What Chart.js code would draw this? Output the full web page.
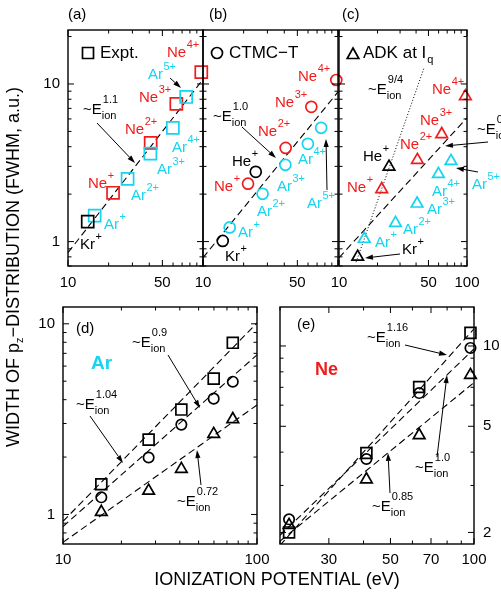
<!DOCTYPE html>
<html><head><meta charset="utf-8">
<script src="https://cdn.jsdelivr.net/npm/chart.js@4.4.1/dist/chart.umd.min.js"></script>
<style>
html,body{margin:0;padding:0;background:#fff;}
#wrap{position:relative;width:501px;height:599px;overflow:hidden;background:#fff;}
canvas{position:absolute;left:0;top:0;}
</style></head><body><div id="wrap">
<canvas id="ca" width="501" height="599"></canvas>
<canvas id="cb" width="501" height="599"></canvas>
<canvas id="cc" width="501" height="599"></canvas>
<canvas id="cd" width="501" height="599"></canvas>
<canvas id="ce" width="501" height="599"></canvas>
</div>
<script>
const FONT = '"Liberation Sans", Arial, Helvetica, sans-serif';
const RED = '#f01c1c', CYAN = '#14d4f0', BLACK = '#000';

// ionization potentials (eV)
const ipKr = [14.0];
const ipHe = [24.59];
const ipAr = [15.76, 27.63, 40.74, 59.81, 75.02];
const ipNe = [21.56, 40.96, 63.45, 97.12];

// (a) experiment
const exptKr = [1.34];
const exptAr = [1.46, 2.50, 3.61, 5.27, 8.27];
const exptNe = [2.04, 4.23, 7.47, 11.9];
// (b) CTMC-T
const ctmcKr = [1.01];
const ctmcHe = [2.77];
const ctmcAr = [1.23, 2.01, 3.07, 4.17, 5.27];
const ctmcNe = [2.33, 3.93, 7.16, 10.6];
// (c) ADK at Iq
const adkKr = [0.80];
const adkHe = [2.98];
const adkAr = [1.04, 1.31, 1.74, 2.68, 3.24];
const adkNe = [2.15, 3.29, 4.8, 8.35];
// (d) Ar
const dExpt = [1.44, 2.47, 3.55, 5.16, 7.95];
const dCtmc = [1.23, 1.99, 2.96, 4.05, 4.97];
const dAdk  = [1.03, 1.33, 1.73, 2.64, 3.16];
// (e) Ne
const eExpt = [2.0, 3.97, 7.02, 11.2];
const eCtmc = [2.24, 3.77, 6.66, 9.83];
const eAdk  = [2.13, 3.16, 4.63, 7.78];

// power-law guide lines (endpoints)
const fitAx = [10, 100], fitAy = [0.85, 10.7];
const fitBx = [10, 100], fitBy = [0.79, 8.9];
const fitCx = [10, 100], fitCy = [0.79, 6.1];
const dotCx = [13.6, 46.1], dotCy = [0.74, 12.6];
const fitDx = [10, 100];
const fitDExpt = [0.92, 10.1], fitDCtmc = [0.865, 6.87], fitDAdk = [0.714, 3.75];
const fitEx = [20, 100];
const fitEExpt = [1.79, 11.6], fitECtmc = [1.95, 9.75], fitEAdk = [1.855, 7.29];

// tick labels
const xLabelsA = [10, 50], xLabelsB = [10, 50], xLabelsC = [10, 50, 100];
const yLabelsTop = [1, 10];
const xLabelsD = [10, 100], yLabelsD = [1, 10];
const xLabelsE = [30, 50, 70, 100], yLabelsE = [2, 5, 10];

const W = 501, H = 599;
function pts(xs, ys) { return xs.map((x, i) => ({x: x, y: ys[i]})); }
function markers(xs, ys, style, color, r) {
  return {data: pts(xs, ys), pointStyle: style, pointRadius: r, borderColor: color, pointBorderColor: color,
    backgroundColor: 'rgba(0,0,0,0)', pointBackgroundColor: 'rgba(0,0,0,0)', borderWidth: 1.7, pointBorderWidth: 1.7,
    showLine: false, clip: false};
}
function fit(xs, ys, dash) {
  return {data: pts(xs, ys), showLine: true, borderColor: '#000', borderWidth: 1.1, borderDash: dash,
    pointRadius: 0, fill: false, tension: 0};
}
function logTickValues(min, max) {
  const out = [];
  for (let p = -1; p <= 3; p++) for (let k = 1; k <= 9; k++) {
    const v = +(k * Math.pow(10, p)).toPrecision(3);
    if (v >= min * 0.999 && v <= max * 1.001) out.push(v);
  }
  return out;
}
function isDecade(v) { const l = Math.log10(v); return Math.abs(l - Math.round(l)) < 1e-6; }

function txt(ctx, s, x, y, size, color, opts) {
  opts = opts || {};
  ctx.font = (opts.bold ? 'bold ' : '') + size + 'px ' + FONT;
  ctx.fillStyle = color; ctx.textAlign = opts.align || 'left'; ctx.textBaseline = 'middle';
  ctx.fillText(s, x, y);
  return ctx.measureText(s).width;
}
function ion(ctx, base, sup, x, y, color) {
  const w = txt(ctx, base, x, y, 15, color);
  txt(ctx, sup, x + w + 0.5, y - 8, 11, color);
}
function elabel(ctx, x, y, exp) {
  const w = txt(ctx, '~E', x, y, 15, BLACK);
  txt(ctx, 'ion', x + w, y + 6, 11, BLACK);
  txt(ctx, exp, x + w + 1, y - 10, 11, BLACK);
}
function arrow(ctx, x1, y1, x2, y2) {
  ctx.save(); ctx.strokeStyle = '#000'; ctx.fillStyle = '#000'; ctx.lineWidth = 1; ctx.setLineDash([]);
  const a = Math.atan2(y2 - y1, x2 - x1), L = 8, Wd = 2.6;
  const bx = x2 - L * Math.cos(a), by = y2 - L * Math.sin(a);
  ctx.beginPath(); ctx.moveTo(x1, y1); ctx.lineTo(bx, by); ctx.stroke();
  ctx.beginPath(); ctx.moveTo(x2, y2);
  ctx.lineTo(bx + Wd * Math.sin(a), by - Wd * Math.cos(a));
  ctx.lineTo(bx - Wd * Math.sin(a), by + Wd * Math.cos(a));
  ctx.closePath(); ctx.fill(); ctx.restore();
}
function legendMark(ctx, shape, x, y) {
  ctx.save(); ctx.strokeStyle = '#000'; ctx.lineWidth = 1.7; ctx.beginPath();
  if (shape === 'rect') ctx.rect(x - 5.5, y - 5.5, 11, 11);
  else if (shape === 'circle') ctx.arc(x, y, 5.5, 0, Math.PI * 2);
  else { ctx.moveTo(x, y - 6); ctx.lineTo(x + 5.8, y + 4.5); ctx.lineTo(x - 5.8, y + 4.5); ctx.closePath(); }
  ctx.stroke(); ctx.restore();
}

function drawFrame(chart, p) {
  const ctx = chart.ctx, a = chart.chartArea, xs = chart.scales.x, ys = chart.scales.y;
  ctx.save(); ctx.strokeStyle = '#000'; ctx.setLineDash([]); ctx.lineWidth = 1;
  ctx.beginPath();
  for (const v of logTickValues(p.x[0], p.x[1])) {
    const px = xs.getPixelForValue(v);
    const L = (isDecade(v) || p.xLabels.includes(v)) ? 6 : 3.5;
    ctx.moveTo(px, a.bottom); ctx.lineTo(px, a.bottom - L);
    ctx.moveTo(px, a.top); ctx.lineTo(px, a.top + L);
  }
  for (const v of logTickValues(p.y[0], p.y[1])) {
    const py = ys.getPixelForValue(v);
    const L = (isDecade(v) || p.yLabels.includes(v)) ? 6 : 3.5;
    ctx.moveTo(a.left, py); ctx.lineTo(a.left + L, py);
    ctx.moveTo(a.right, py); ctx.lineTo(a.right - L, py);
  }
  ctx.stroke();
  ctx.lineWidth = 1.4;
  ctx.strokeRect(a.left, a.top, a.right - a.left, a.bottom - a.top);
  ctx.restore();
}

function makePanel(p) {
  const plugin = {id: 'deco_' + p.id, afterDraw(chart) { drawFrame(chart, p); if (p.draw) p.draw(chart.ctx, chart); }};
  const tickFont = {family: FONT, size: 15};
  const AXH = 30;                       // height reserved for x tick labels
  const AXW = p.showY ? p.yAxisW : 0;    // width reserved for y tick labels
  const pad = {left: p.box.l - (p.yPos === 'left' ? AXW : 0), top: p.box.t,
    right: W - p.box.r - (p.yPos === 'right' ? AXW : 0), bottom: H - p.box.b - AXH};
  new Chart(document.getElementById(p.id), {
    type: 'scatter',
    data: {datasets: p.datasets},
    options: {
      responsive: false, animation: false, devicePixelRatio: 1,
      layout: {padding: pad, autoPadding: false},
      plugins: {legend: {display: false}, tooltip: {enabled: false}},
      elements: {line: {tension: 0}},
      scales: {
        x: {type: 'logarithmic', position: 'bottom', min: p.x[0], max: p.x[1],
          grid: {display: false, drawTicks: false}, border: {display: false},
          afterFit(s) { s.height = AXH; },
          afterBuildTicks(s) { s.ticks = p.xLabels.map(v => ({value: v})); },
          ticks: {display: true, autoSkip: false, maxRotation: 0, minRotation: 0, padding: p.xPad, color: '#000',
            font: tickFont, callback: v => String(v)}},
        y: {type: 'logarithmic', position: p.yPos, min: p.y[0], max: p.y[1],
          grid: {display: false, drawTicks: false}, border: {display: false},
          afterFit(s) { s.width = AXW; },
          afterBuildTicks(s) { s.ticks = p.yLabels.map(v => ({value: v})); },
          ticks: {display: p.showY, autoSkip: false, padding: p.yPad, color: '#000',
            font: tickFont, callback: v => String(v)}}
      }
    },
    plugins: [plugin]
  });
}

const TOPY = [0.7, 22];

makePanel({id: 'ca', box: {l: 68, t: 30, r: 203, b: 266}, x: [10, 100], y: TOPY, xLabels: xLabelsA, yLabels: yLabelsTop,
  yPos: 'left', showY: true, yAxisW: 40, xPad: 8, yPad: 8,
  datasets: [
    markers(ipKr, exptKr, 'rect', BLACK, 8.5),
    markers(ipAr, exptAr, 'rect', CYAN, 8.5),
    markers(ipNe, exptNe, 'rect', RED, 8.5),
    fit(fitAx, fitAy, [7, 4])
  ],
  draw(ctx) {
    txt(ctx, '(a)', 68, 15, 15, BLACK);
    legendMark(ctx, 'rect', 88, 53); txt(ctx, 'Expt.', 100, 53, 17, BLACK);
    ion(ctx, 'Ne', '4+', 167, 53, RED);
    ion(ctx, 'Ar', '5+', 148, 75, CYAN);
    ion(ctx, 'Ne', '3+', 139, 98, RED);
    ion(ctx, 'Ne', '2+', 125, 130, RED);
    ion(ctx, 'Ar', '4+', 172, 148, CYAN);
    ion(ctx, 'Ar', '3+', 157, 170, CYAN);
    ion(ctx, 'Ne', '+', 88, 184, RED);
    ion(ctx, 'Ar', '2+', 131, 196, CYAN);
    ion(ctx, 'Ar', '+', 104, 225, CYAN);
    ion(ctx, 'Kr', '+', 80, 245, BLACK);
    elabel(ctx, 83, 110, '1.1');
    arrow(ctx, 97, 123, 135, 163);
    arrow(ctx, 170, 78, 181, 88);
    // shared axis titles
    ctx.save(); ctx.translate(14, 267); ctx.rotate(-Math.PI / 2);
    ctx.font = '18px ' + FONT; const w1 = ctx.measureText('WIDTH OF p').width;
    ctx.font = '11px ' + FONT; const wz = ctx.measureText('z').width;
    ctx.font = '18px ' + FONT; const w2 = ctx.measureText('\u2212DISTRIBUTION (FWHM, a.u.)').width;
    const st = -(w1 + wz + w2) / 2;
    txt(ctx, 'WIDTH OF p', st, 0, 18, BLACK);
    txt(ctx, 'z', st + w1, 6, 11, BLACK);
    txt(ctx, '\u2212DISTRIBUTION (FWHM, a.u.)', st + w1 + wz, 0, 18, BLACK);
    ctx.restore();
    txt(ctx, 'IONIZATION POTENTIAL (eV)', 277, 580, 18, BLACK, {align: 'center'});
  }
});

makePanel({id: 'cb', box: {l: 203, t: 30, r: 338, b: 266}, x: [10, 100], y: TOPY, xLabels: xLabelsB, yLabels: yLabelsTop,
  yPos: 'left', showY: false, xPad: 8, yPad: 8,
  datasets: [
    markers(ipKr, ctmcKr, 'circle', BLACK, 5.5),
    markers(ipHe, ctmcHe, 'circle', BLACK, 5.5),
    markers(ipAr, ctmcAr, 'circle', CYAN, 5.5),
    markers(ipNe, ctmcNe, 'circle', RED, 5.5),
    fit(fitBx, fitBy, [7, 4])
  ],
  draw(ctx) {
    txt(ctx, '(b)', 209, 15, 15, BLACK);
    legendMark(ctx, 'circle', 217, 53); txt(ctx, 'CTMC\u2212T', 229, 53, 17, BLACK);
    ion(ctx, 'Ne', '4+', 298, 77, RED);
    ion(ctx, 'Ne', '3+', 275, 103, RED);
    ion(ctx, 'Ne', '2+', 258, 132, RED);
    ion(ctx, 'He', '+', 232, 162, BLACK);
    ion(ctx, 'Ne', '+', 214, 187, RED);
    ion(ctx, 'Ar', '4+', 298, 160, CYAN);
    ion(ctx, 'Ar', '3+', 277, 187, CYAN);
    ion(ctx, 'Ar', '2+', 257, 212, CYAN);
    ion(ctx, 'Ar', '+', 238, 233, CYAN);
    ion(ctx, 'Kr', '+', 225, 257, BLACK);
    ion(ctx, 'Ar', '5+', 307, 204, CYAN);
    elabel(ctx, 213, 117, '1.0');
    arrow(ctx, 242, 127, 276, 158);
    arrow(ctx, 327, 190, 326, 139);
  }
});

makePanel({id: 'cc', box: {l: 339, t: 30, r: 467, b: 266}, x: [10, 100], y: TOPY, xLabels: xLabelsC, yLabels: yLabelsTop,
  yPos: 'left', showY: false, xPad: 8, yPad: 8,
  datasets: [
    markers(ipKr, adkKr, 'triangle', BLACK, 6.7),
    markers(ipHe, adkHe, 'triangle', BLACK, 6.7),
    markers(ipAr, adkAr, 'triangle', CYAN, 6.7),
    markers(ipNe, adkNe, 'triangle', RED, 6.7),
    fit(fitCx, fitCy, [7, 4]),
    Object.assign(fit(dotCx, dotCy, [1, 2]), {borderWidth: 1})
  ],
  draw(ctx) {
    txt(ctx, '(c)', 342, 15, 15, BLACK);
    legendMark(ctx, 'tri', 353, 54); txt(ctx, 'ADK at I', 363, 53, 17, BLACK);
    ctx.font = '17px ' + FONT; const wl = ctx.measureText('ADK at I').width;
    txt(ctx, 'q', 363 + wl + 1, 60, 11, BLACK);
    elabel(ctx, 368, 90, '9/4');
    ion(ctx, 'Ne', '4+', 432, 90, RED);
    ion(ctx, 'Ne', '3+', 420, 121, RED);
    ion(ctx, 'Ne', '2+', 400, 145, RED);
    ion(ctx, 'He', '+', 363, 157, BLACK);
    ion(ctx, 'Ne', '+', 347, 188, RED);
    elabel(ctx, 477, 130, '0.9');
    ion(ctx, 'Ar', '5+', 472, 185, CYAN);
    ion(ctx, 'Ar', '4+', 432, 192, CYAN);
    ion(ctx, 'Ar', '3+', 427, 210, CYAN);
    ion(ctx, 'Ar', '2+', 403, 230, CYAN);
    ion(ctx, 'Ar', '+', 375, 243, CYAN);
    ion(ctx, 'Kr', '+', 402, 250, BLACK);
    arrow(ctx, 488, 142, 445, 146);
    arrow(ctx, 478, 172, 456, 168);
    arrow(ctx, 400, 254, 365, 258);
  }
});

makePanel({id: 'cd', box: {l: 63, t: 307, r: 257, b: 544}, x: [10, 100], y: [0.705, 12.25], xLabels: xLabelsD, yLabels: yLabelsD,
  yPos: 'left', showY: true, yAxisW: 40, xPad: 7, yPad: 8,
  datasets: [
    markers(ipAr, dExpt, 'rect', BLACK, 7.7),
    markers(ipAr, dCtmc, 'circle', BLACK, 5.2),
    markers(ipAr, dAdk, 'triangle', BLACK, 6.7),
    fit(fitDx, fitDExpt, [7, 4]),
    fit(fitDx, fitDCtmc, [7, 4]),
    fit(fitDx, fitDAdk, [7, 4])
  ],
  draw(ctx) {
    txt(ctx, '(d)', 76, 329, 15, BLACK);
    txt(ctx, 'Ar', 91, 364, 19, CYAN, {bold: true});
    elabel(ctx, 132, 343, '0.9');
    elabel(ctx, 76, 405, '1.04');
    elabel(ctx, 177, 502, '0.72');
    arrow(ctx, 168, 355, 200, 408);
    arrow(ctx, 90, 416, 123, 463);
    arrow(ctx, 201, 485, 197, 450);
  }
});

makePanel({id: 'ce', box: {l: 280, t: 307, r: 474, b: 544}, x: [20, 100], y: [1.81, 14.0], xLabels: xLabelsE, yLabels: yLabelsE,
  yPos: 'right', showY: true, yAxisW: 27, xPad: 7, yPad: 9,
  datasets: [
    markers(ipNe, eExpt, 'rect', BLACK, 7.7),
    markers(ipNe, eCtmc, 'circle', BLACK, 5.2),
    markers(ipNe, eAdk, 'triangle', BLACK, 6.7),
    fit(fitEx, fitEExpt, [7, 4]),
    fit(fitEx, fitECtmc, [7, 4]),
    fit(fitEx, fitEAdk, [7, 4])
  ],
  draw(ctx) {
    txt(ctx, '(e)', 297, 325, 15, BLACK);
    txt(ctx, 'Ne', 315, 370, 18, RED, {bold: true});
    elabel(ctx, 367, 338, '1.16');
    elabel(ctx, 415, 468, '1.0');
    elabel(ctx, 372, 507, '0.85');
    arrow(ctx, 405, 345, 447, 355);
    arrow(ctx, 437, 457, 447, 375);
    arrow(ctx, 390, 493, 388, 453);
  }
});
</script>
</body></html>
